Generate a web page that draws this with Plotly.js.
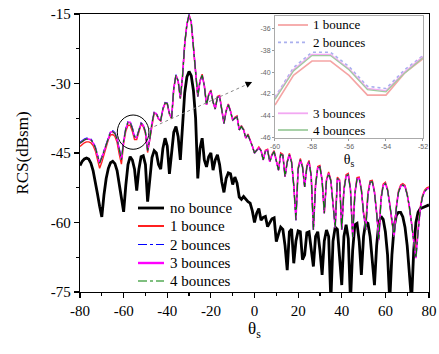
<!DOCTYPE html>
<html>
<head>
<meta charset="utf-8">
<script src="https://cdn.plot.ly/plotly-3.0.1.min.js"></script>
<style>html,body{margin:0;padding:0;background:#fff;}#chart{width:439px;height:354px;}</style>
</head>
<body>
<div id="chart"></div>
<script>
// Scattering angle, -80..80 deg step 1
const theta = [];
for (let t = -80; t <= 80; t++) theta.push(t);

const noBounce = [
 -47.7,-46.8,-46.3,-46.1,-46.3,-47.2,-48.8,-51.0,-53.8,-56.5,   // -80..-71
 -58.8,-54.0,-50.5,-48.3,-47.1,-46.8,-47.3,-48.8,-51.5,-54.5,   // -70..-61
 -57.7,-52.0,-47.5,-45.8,-46.5,-48.5,-53.1,-48.5,-45.8,-45.6,   // -60..-51
 -47.5,-55.5,-50.0,-46.0,-44.5,-45.0,-47.5,-48.5,-44.0,-41.8,   // -50..-41
 -43.5,-49.5,-45.0,-40.5,-39.3,-41.5,-46.5,-38.0,-32.0,-28.6,   // -40..-31
 -27.4,-28.3,-31.5,-37.5,-50.5,-44.0,-41.8,-46.5,-48.0,-45.8,   // -30..-21
 -45.0,-48.7,-46.5,-45.4,-47.5,-51.2,-53.5,-50.5,-49.3,-49.5,   // -20..-11
 -51.8,-50.2,-51.5,-54.5,-55.0,-54.4,-55.0,-55.5,-55.8,-57.5,   // -10..-1
 -60.0,-58.0,-57.0,-59.5,-58.9,-58.7,-60.9,-60.0,-59.2,-59.0,   // 0..9
 -64.1,-62.5,-61.0,-61.5,-65.0,-70.3,-62.0,-61.4,-68.8,-64.0,   // 10..19
 -61.8,-62.0,-68.0,-67.0,-62.2,-62.0,-66.0,-69.5,-63.0,-62.0,   // 20..29
 -66.0,-71.3,-64.0,-61.6,-63.0,-77.0,-64.0,-61.0,-61.5,-68.0,   // 30..39
 -73.5,-63.0,-60.5,-63.5,-77.0,-66.0,-60.5,-60.2,-64.0,-71.3,   // 40..49
 -63.0,-59.9,-60.2,-63.0,-68.0,-73.5,-65.0,-60.0,-58.7,-59.3,   // 50..59
 -62.0,-67.0,-77.0,-67.0,-61.0,-58.5,-57.8,-57.8,-58.8,-61.0,   // 60..69
 -65.0,-70.0,-77.0,-66.0,-60.0,-57.8,-57.0,-56.8,-56.6,-56.4,   // 70..79
 -56.2                                                          // 80
];

const bounce1 = [
 -43.6,-43.1,-42.8,-42.6,-42.6,-42.8,-43.4,-44.5,-46.4,-48.3,
 -47.0,-45.3,-43.7,-42.1,-41.1,-41.0,-41.4,-42.7,-45.3,-47.4,
 -43.0,-40.3,-39.0,-39.0,-40.3,-42.1,-42.1,-40.1,-38.8,-39.3,
 -40.8,-44.9,-42.2,-38.6,-36.4,-36.6,-37.7,-38.1,-35.6,-34.3,
 -34.4,-36.6,-37.6,-31.1,-28.2,-29.5,-33.2,-28.5,-21.5,-17.3,
 -15.2,-16.8,-21.5,-27.5,-32.8,-29.4,-28.0,-30.4,-34.6,-32.3,
 -31.4,-34.0,-35.5,-32.8,-32.6,-35.5,-38.6,-35.8,-34.4,-35.9,
 -37.9,-37.3,-37.0,-40.0,-39.1,-39.9,-41.8,-40.9,-42.1,-43.5,
 -45.0,-44.3,-43.7,-44.4,-46.5,-44.4,-44.2,-46.9,-45.3,-44.5,
 -46.5,-48.7,-45.0,-45.3,-50.1,-46.8,-45.1,-46.8,-52.0,-58.5,
 -48.2,-46.2,-47.8,-52.3,-47.7,-46.6,-49.8,-61.0,-51.6,-47.9,
 -47.7,-50.8,-58.0,-50.7,-49.1,-50.8,-56.0,-60.5,-50.2,-50.8,
 -61.0,-52.7,-49.7,-49.4,-52.8,-62.5,-53.6,-50.3,-50.2,-52.8,
 -58.0,-60.0,-53.6,-51.0,-50.9,-53.3,-58.0,-63.0,-54.6,-51.7,
 -51.3,-52.8,-56.0,-60.0,-62.5,-56.6,-53.2,-51.9,-51.6,-52.0,
 -53.8,-56.5,-60.0,-64.0,-66.0,-61.5,-56.7,-54.2,-53.0,-52.5,
 -52.3
];

const bounce2 = [
 -42.7,-42.3,-42.0,-41.8,-41.8,-42.0,-42.6,-43.6,-45.3,-47.0,
 -45.8,-44.3,-42.8,-41.3,-40.3,-40.2,-40.6,-41.8,-44.3,-46.3,
 -42.3,-39.6,-38.2,-38.2,-39.5,-41.3,-41.5,-39.8,-38.5,-38.9,
 -40.4,-44.4,-41.9,-38.4,-36.2,-36.4,-37.5,-37.9,-35.4,-34.1,
 -34.2,-36.4,-37.4,-30.9,-28.1,-29.4,-33.1,-28.4,-21.4,-17.2,
 -15.1,-16.7,-21.4,-27.4,-32.8,-29.5,-28.2,-30.5,-34.6,-32.5,
 -31.6,-34.0,-35.5,-33.0,-32.8,-35.5,-38.6,-36.0,-34.6,-36.0,
 -37.9,-37.5,-37.2,-40.0,-39.3,-40.0,-41.8,-41.1,-42.2,-43.5,
 -45.0,-44.5,-43.9,-44.5,-46.5,-44.6,-44.4,-46.9,-45.5,-44.7,
 -46.5,-48.7,-45.3,-45.5,-50.1,-47.0,-45.4,-47.0,-52.0,-59.5,
 -48.5,-46.5,-48.0,-52.3,-48.0,-46.9,-50.0,-61.6,-52.0,-48.2,
 -48.0,-51.0,-58.0,-51.0,-49.4,-51.0,-56.0,-61.2,-50.5,-51.0,
 -61.6,-53.0,-50.0,-49.7,-53.0,-63.1,-54.0,-50.6,-50.5,-53.0,
 -58.0,-61.6,-54.0,-51.3,-51.2,-53.5,-58.0,-63.8,-55.0,-52.0,
 -51.6,-53.0,-56.0,-60.0,-63.1,-57.0,-53.5,-52.2,-51.9,-52.3,
 -54.0,-56.5,-60.0,-64.0,-67.7,-62.0,-57.0,-54.5,-53.3,-52.8,
 -52.6
];

const bounce34 = [
 -42.9,-42.5,-42.2,-42.0,-42.0,-42.2,-42.8,-43.8,-45.5,-47.2,
 -46.0,-44.5,-43.0,-41.5,-40.5,-40.4,-40.8,-42.0,-44.5,-46.5,
 -42.4,-39.8,-38.4,-38.4,-39.7,-41.5,-41.7,-40.0,-38.6,-39.0,
 -40.5,-44.5,-42.0,-38.5,-36.3,-36.5,-37.6,-38.0,-35.5,-34.2,
 -34.3,-36.5,-37.5,-31.0,-28.2,-29.5,-33.2,-28.5,-21.5,-17.3,
 -15.2,-16.8,-21.5,-27.5,-32.8,-29.5,-28.2,-30.5,-34.6,-32.5,
 -31.6,-34.0,-35.5,-33.0,-32.8,-35.5,-38.6,-36.0,-34.6,-36.0,
 -37.9,-37.5,-37.2,-40.0,-39.3,-40.0,-41.8,-41.1,-42.2,-43.5,
 -45.0,-44.5,-43.9,-44.5,-46.5,-44.6,-44.4,-46.9,-45.5,-44.7,
 -46.5,-48.7,-45.3,-45.5,-50.1,-47.0,-45.4,-47.0,-52.0,-59.5,
 -48.5,-46.5,-48.0,-52.3,-48.0,-46.9,-50.0,-61.6,-52.0,-48.2,
 -48.0,-51.0,-58.0,-51.0,-49.4,-51.0,-56.0,-61.2,-50.5,-51.0,
 -61.6,-53.0,-50.0,-49.7,-53.0,-63.1,-54.0,-50.6,-50.5,-53.0,
 -58.0,-61.6,-54.0,-51.3,-51.2,-53.5,-58.0,-63.8,-55.0,-52.0,
 -51.6,-53.0,-56.0,-60.0,-63.1,-57.0,-53.5,-52.2,-51.9,-52.3,
 -54.0,-56.5,-60.0,-64.0,-67.7,-62.0,-57.0,-54.5,-53.3,-52.8,
 -52.6
];

// Inset (zoom of -60..-52)
const insetTheta = [-60,-59,-58,-57,-56,-55,-54,-53,-52];
const inset1 = [-43.0,-40.3,-39.0,-39.0,-40.3,-42.1,-42.1,-40.1,-38.8];
const inset2 = [-42.3,-39.6,-38.2,-38.2,-39.5,-41.3,-41.5,-39.8,-38.5];
const inset3 = [-42.4,-39.8,-38.4,-38.4,-39.7,-41.5,-41.7,-40.0,-38.6];
const inset4 = [-42.5,-39.9,-38.5,-38.5,-39.8,-41.6,-41.8,-40.1,-38.7];

const xTicks = [-80,-60,-40,-20,0,20,40,60,80];
const yTicks = [-75,-60,-45,-30,-15];
const insetXTicks = [-60,-58,-56,-54,-52];
const insetYTicks = [-46,-44,-42,-40,-38,-36];
const seriesNames = ['no bounce','1 bounce','2 bounces','3 bounces','4 bounces'];

const lab = v => String(v);
const serif = 'Liberation Serif, Times New Roman, serif';

const mainStyles = [
  {color: '#000', width: 2.8},
  {color: '#ff2020', width: 1.4},
  {color: '#0000ff', width: 1.2, dash: 'dashdot'},
  {color: '#ff00ff', width: 1.6},
  {color: '#008000', width: 1.1, dash: 'dashdot'}
];
const insetStyles = [
  null,
  {color: '#f5a5a5', width: 1.6},
  {color: '#aab0ee', width: 1.6, dash: 'dot'},
  {color: '#f2a8f2', width: 1.6},
  {color: '#9fcc9f', width: 1.3}
];
const mainSeries = [noBounce, bounce1, bounce2, bounce34, bounce34];
const insetSeries = [null, inset1, inset2, inset3, inset4];

const traces = [];
mainSeries.forEach((ys, i) => traces.push({
  x: theta, y: ys, name: seriesNames[i], mode: 'lines', line: mainStyles[i], showlegend: false
}));
for (let i = 1; i <= 4; i++) traces.push({
  x: insetTheta, y: insetSeries[i], name: seriesNames[i], xaxis: 'x2', yaxis: 'y2',
  mode: 'lines', line: insetStyles[i], showlegend: false
});

// Hand-placed legends (paper coordinates of the main plot area)
const px = p => (p - 80) / 349;
const py = p => (292 - p) / 278;
const shapes = [
  {type: 'circle', xref: 'x', yref: 'y', x0: -62.9, x1: -48.4, y0: -44.2, y1: -36.8,
   line: {color: '#000', width: 1}},
  {type: 'line', xref: 'x', yref: 'y', x0: -48.4, y0: -39.8, x1: -1.1, y1: -29.7,
   line: {color: '#888', width: 1, dash: 'dot'}}
];
const annotations = [
  {x: -1.1, y: -29.7, xref: 'x', yref: 'y', ax: -4.5, ay: -30.43, axref: 'x', ayref: 'y',
   text: '', showarrow: true, arrowhead: 2, arrowsize: 1.3, arrowwidth: 1, arrowcolor: '#000'}
];
const mainRows = [208, 226, 244.5, 263, 281];
mainRows.forEach((r, i) => {
  const st = mainStyles[i];
  shapes.push({type: 'line', xref: 'paper', yref: 'paper', x0: px(138), x1: px(164), y0: py(r), y1: py(r),
    line: {color: st.color, width: i === 0 ? 2.8 : (i === 3 ? 2.4 : (st.dash ? 1.2 : 2)), dash: st.dash || 'solid'}});
  annotations.push({x: px(168), y: py(r), xref: 'paper', yref: 'paper', xanchor: 'left', yanchor: 'middle',
    text: seriesNames[i], showarrow: false, font: {size: 15, family: serif, color: '#000'}});
});
const insetRows = {1: 25, 2: 42.3, 3: 113.3, 4: 130};
for (let i = 1; i <= 4; i++) {
  const st = insetStyles[i];
  const r = insetRows[i];
  shapes.push({type: 'line', xref: 'paper', yref: 'paper', x0: px(278), x1: px(308), y0: py(r), y1: py(r),
    line: {color: st.color, width: 1.8, dash: st.dash || 'solid'}});
  annotations.push({x: px(311), y: py(r), xref: 'paper', yref: 'paper', xanchor: 'left', yanchor: 'middle',
    text: seriesNames[i], showarrow: false, font: {size: 13, family: serif, color: '#000'}});
}

const layout = {
  width: 439, height: 354,
  margin: {l: 80, r: 10, t: 14, b: 62},
  paper_bgcolor: '#fff', plot_bgcolor: '#fff',
  font: {family: serif, color: '#000', size: 15},
  showlegend: false,
  xaxis: {
    range: [-80, 80], tickmode: 'array', tickvals: xTicks, ticktext: xTicks.map(lab),
    ticks: 'outside', ticklen: 5, tickwidth: 1.2, tickcolor: '#000',
    minor: {tickmode: 'array', tickvals: [-70,-50,-30,-10,10,30,50,70], ticks: 'outside', ticklen: 3, tickcolor: '#000'},
    showline: true, linecolor: '#000', linewidth: 1.2, mirror: true,
    showgrid: false, zeroline: false, tickfont: {size: 15},
    title: {text: 'θ<sub>s</sub>', font: {size: 17}, standoff: 0}
  },
  yaxis: {
    range: [-75, -15], tickmode: 'array', tickvals: yTicks, ticktext: yTicks.map(lab),
    ticks: 'outside', ticklen: 5, tickwidth: 1.2, tickcolor: '#000',
    minor: {tickmode: 'array', tickvals: [-67.5,-52.5,-37.5,-22.5], ticks: 'outside', ticklen: 3, tickcolor: '#000'},
    showline: true, linecolor: '#000', linewidth: 1.2, mirror: true,
    showgrid: false, zeroline: false, tickfont: {size: 15},
    title: {text: 'RCS(dBsm)', font: {size: 17}, standoff: 17}
  },
  xaxis2: {
    domain: [0.5587, 0.9828], anchor: 'y2', range: [-60, -52],
    tickmode: 'array', tickvals: insetXTicks, ticktext: insetXTicks.map(lab),
    ticks: 'outside', ticklen: 2, tickcolor: '#999',
    showline: true, linecolor: '#aaa', linewidth: 1, mirror: true,
    showgrid: false, zeroline: false,
    tickfont: {size: 7, color: '#666', family: 'Liberation Sans, Arial, sans-serif'},
    title: {text: 'θ<sub>s</sub>', font: {size: 14}, standoff: 4}
  },
  yaxis2: {
    domain: [0.5540, 0.9928], anchor: 'x2', range: [-46, -34.9],
    tickmode: 'array', tickvals: insetYTicks, ticktext: insetYTicks.map(lab),
    ticks: 'outside', ticklen: 2, tickcolor: '#999',
    showline: true, linecolor: '#aaa', linewidth: 1, mirror: true,
    showgrid: false, zeroline: false,
    tickfont: {size: 7, color: '#666', family: 'Liberation Sans, Arial, sans-serif'}
  },
  shapes: shapes,
  annotations: annotations
};

Plotly.newPlot('chart', traces, layout, {staticPlot: true, displayModeBar: false});
</script>
</body>
</html>
